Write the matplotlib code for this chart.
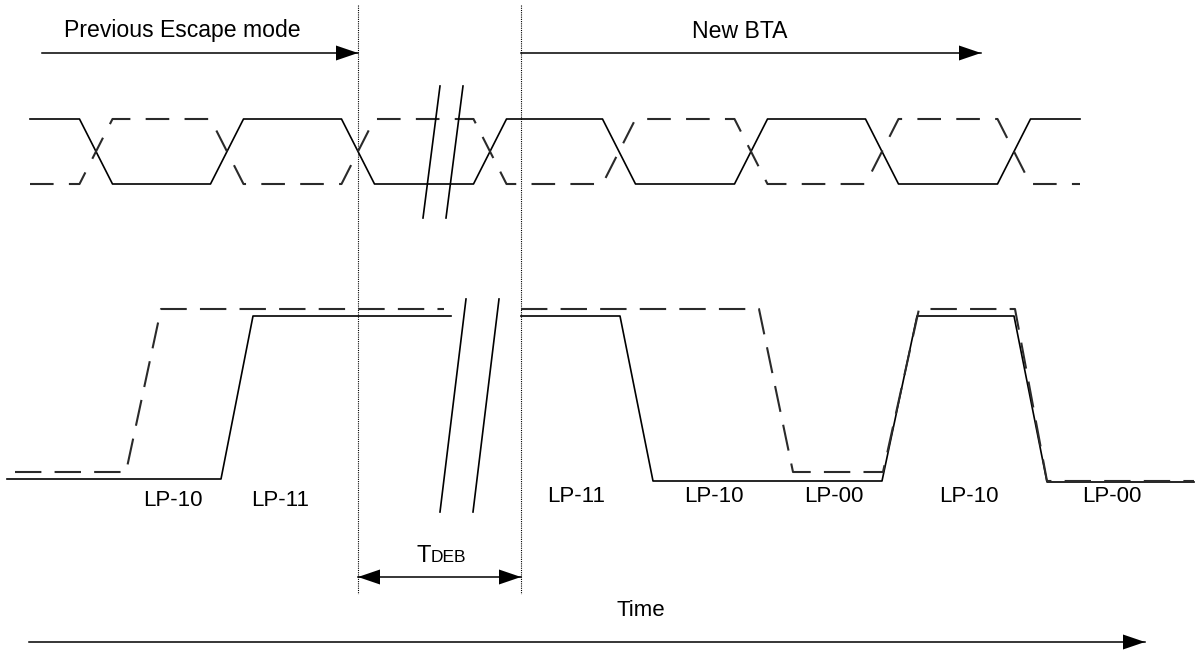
import matplotlib
matplotlib.use("Agg")
import matplotlib.pyplot as plt

plt.rcParams["font.family"] = ["Liberation Sans", "DejaVu Sans"]
plt.rcParams["lines.scale_dashes"] = False

# phase arrows along the top
phase_names = ["Previous Escape mode", "New BTA"]
phase_start = [42, 521]
phase_end = [358, 981]
phase_text_x = [182, 740]

# differential data pair (eye), crossing points in px
eye_cross = [96, 227, 358, 490, 619, 751, 882, 1014]
eye_x0, eye_x1 = 30, 1080
eye_hi, eye_lo = 119, 184
eye_edge = 33

# LP lines, before and after the break
lp_solid_x = [[7, 221, 253, 451], [521, 620, 653, 882, 917, 1014, 1047, 1194]]
lp_solid_y = [[479, 479, 316, 316], [316, 316, 481, 481, 316, 316, 482, 482]]
lp_dash_x = [[15, 126, 161, 444], [521, 759, 793, 883, 919, 1015, 1047, 1194]]
lp_dash_y = [[472, 472, 309, 309], [309, 309, 472, 472, 309, 309, 481, 481]]

lp_labels = ["LP-10", "LP-11", "LP-11", "LP-10", "LP-00", "LP-10", "LP-00"]
lp_label_x = [173, 280, 576, 714, 834, 969, 1112]
lp_label_y = [500, 500, 497, 497, 497, 497, 497]

# break marks (x top, y top, x bottom, y bottom)
brk_top = [(440, 86, 423, 218), (463, 86, 446, 218)]
brk_bot = [(466, 299, 440, 512), (499, 299, 473, 512)]

# TDEB window
t_deb = [358, 521]
t_deb_y = 577
time_x = [29, 1145]
time_y = 642


fig = plt.figure(figsize=(11.99, 6.53), dpi=100)
ax = fig.add_axes([0, 0, 1, 1])
ax.set_xlim(0, 1199)
ax.set_ylim(653, 0)
ax.axis("off")

HL, HW = 22, 7.5


def head(x_tip, y, direction):
    ax.fill([x_tip, x_tip - direction * HL, x_tip - direction * HL],
            [y, y - HW, y + HW], color="black", lw=0)


def arrow(x0, x1, y, both=False):
    ax.plot([x0, x1], [y, y], color="black", lw=1.1)
    head(x1, y, 1)
    if both:
        head(x0, y, -1)


def eye_path(start_hi):
    lvl = start_hi
    xs = [eye_x0]
    ys = [eye_hi if lvl else eye_lo]
    for c in eye_cross:
        xs += [c - eye_edge / 2, c + eye_edge / 2]
        ys += [eye_hi if lvl else eye_lo, eye_lo if lvl else eye_hi]
        lvl = not lvl
    xs.append(eye_x1)
    ys.append(eye_hi if lvl else eye_lo)
    return xs, ys


# top phase arrows
for name, x0, x1, tx in zip(phase_names, phase_start, phase_end, phase_text_x):
    arrow(x0, x1, 53)
    ax.text(tx, 31, name, fontsize=16.6, ha="center", va="center")

# dotted window lines
for x in t_deb:
    ax.plot([x, x], [5, 594], color="black", lw=0.8, dashes=(0.8, 0.8))

# eye pattern
xs, ys = eye_path(True)
ax.plot(xs, ys, color="black", lw=1.2)
xs, ys = eye_path(False)
ax.plot(xs, ys, color="#2a2a2a", lw=1.5, dashes=(17, 11))

# LP lines
for sx, sy in zip(lp_solid_x, lp_solid_y):
    ax.plot(sx, sy, color="black", lw=1.2)
for dx, dy in zip(lp_dash_x, lp_dash_y):
    ax.plot(dx, dy, color="#2a2a2a", lw=1.5, dashes=(19, 9.5))

for lab, x, y in zip(lp_labels, lp_label_x, lp_label_y):
    ax.text(x, y, lab, fontsize=16, ha="center", va="center")

# break marks
for xa, ya, xb, yb in brk_top + brk_bot:
    ax.plot([xa, xb], [ya, yb], color="black", lw=1.2)

# TDEB
arrow(t_deb[0], t_deb[1], t_deb_y, both=True)
ax.text(431, 562, "T", fontsize=17, ha="right", va="baseline")
ax.text(431, 562, "DEB", fontsize=12.5, ha="left", va="baseline")

# time axis
arrow(time_x[0], time_x[1], time_y)
ax.text(641, 610, "Time", fontsize=16, ha="center", va="center")

fig.savefig("out.png", dpi=100, facecolor="white")
